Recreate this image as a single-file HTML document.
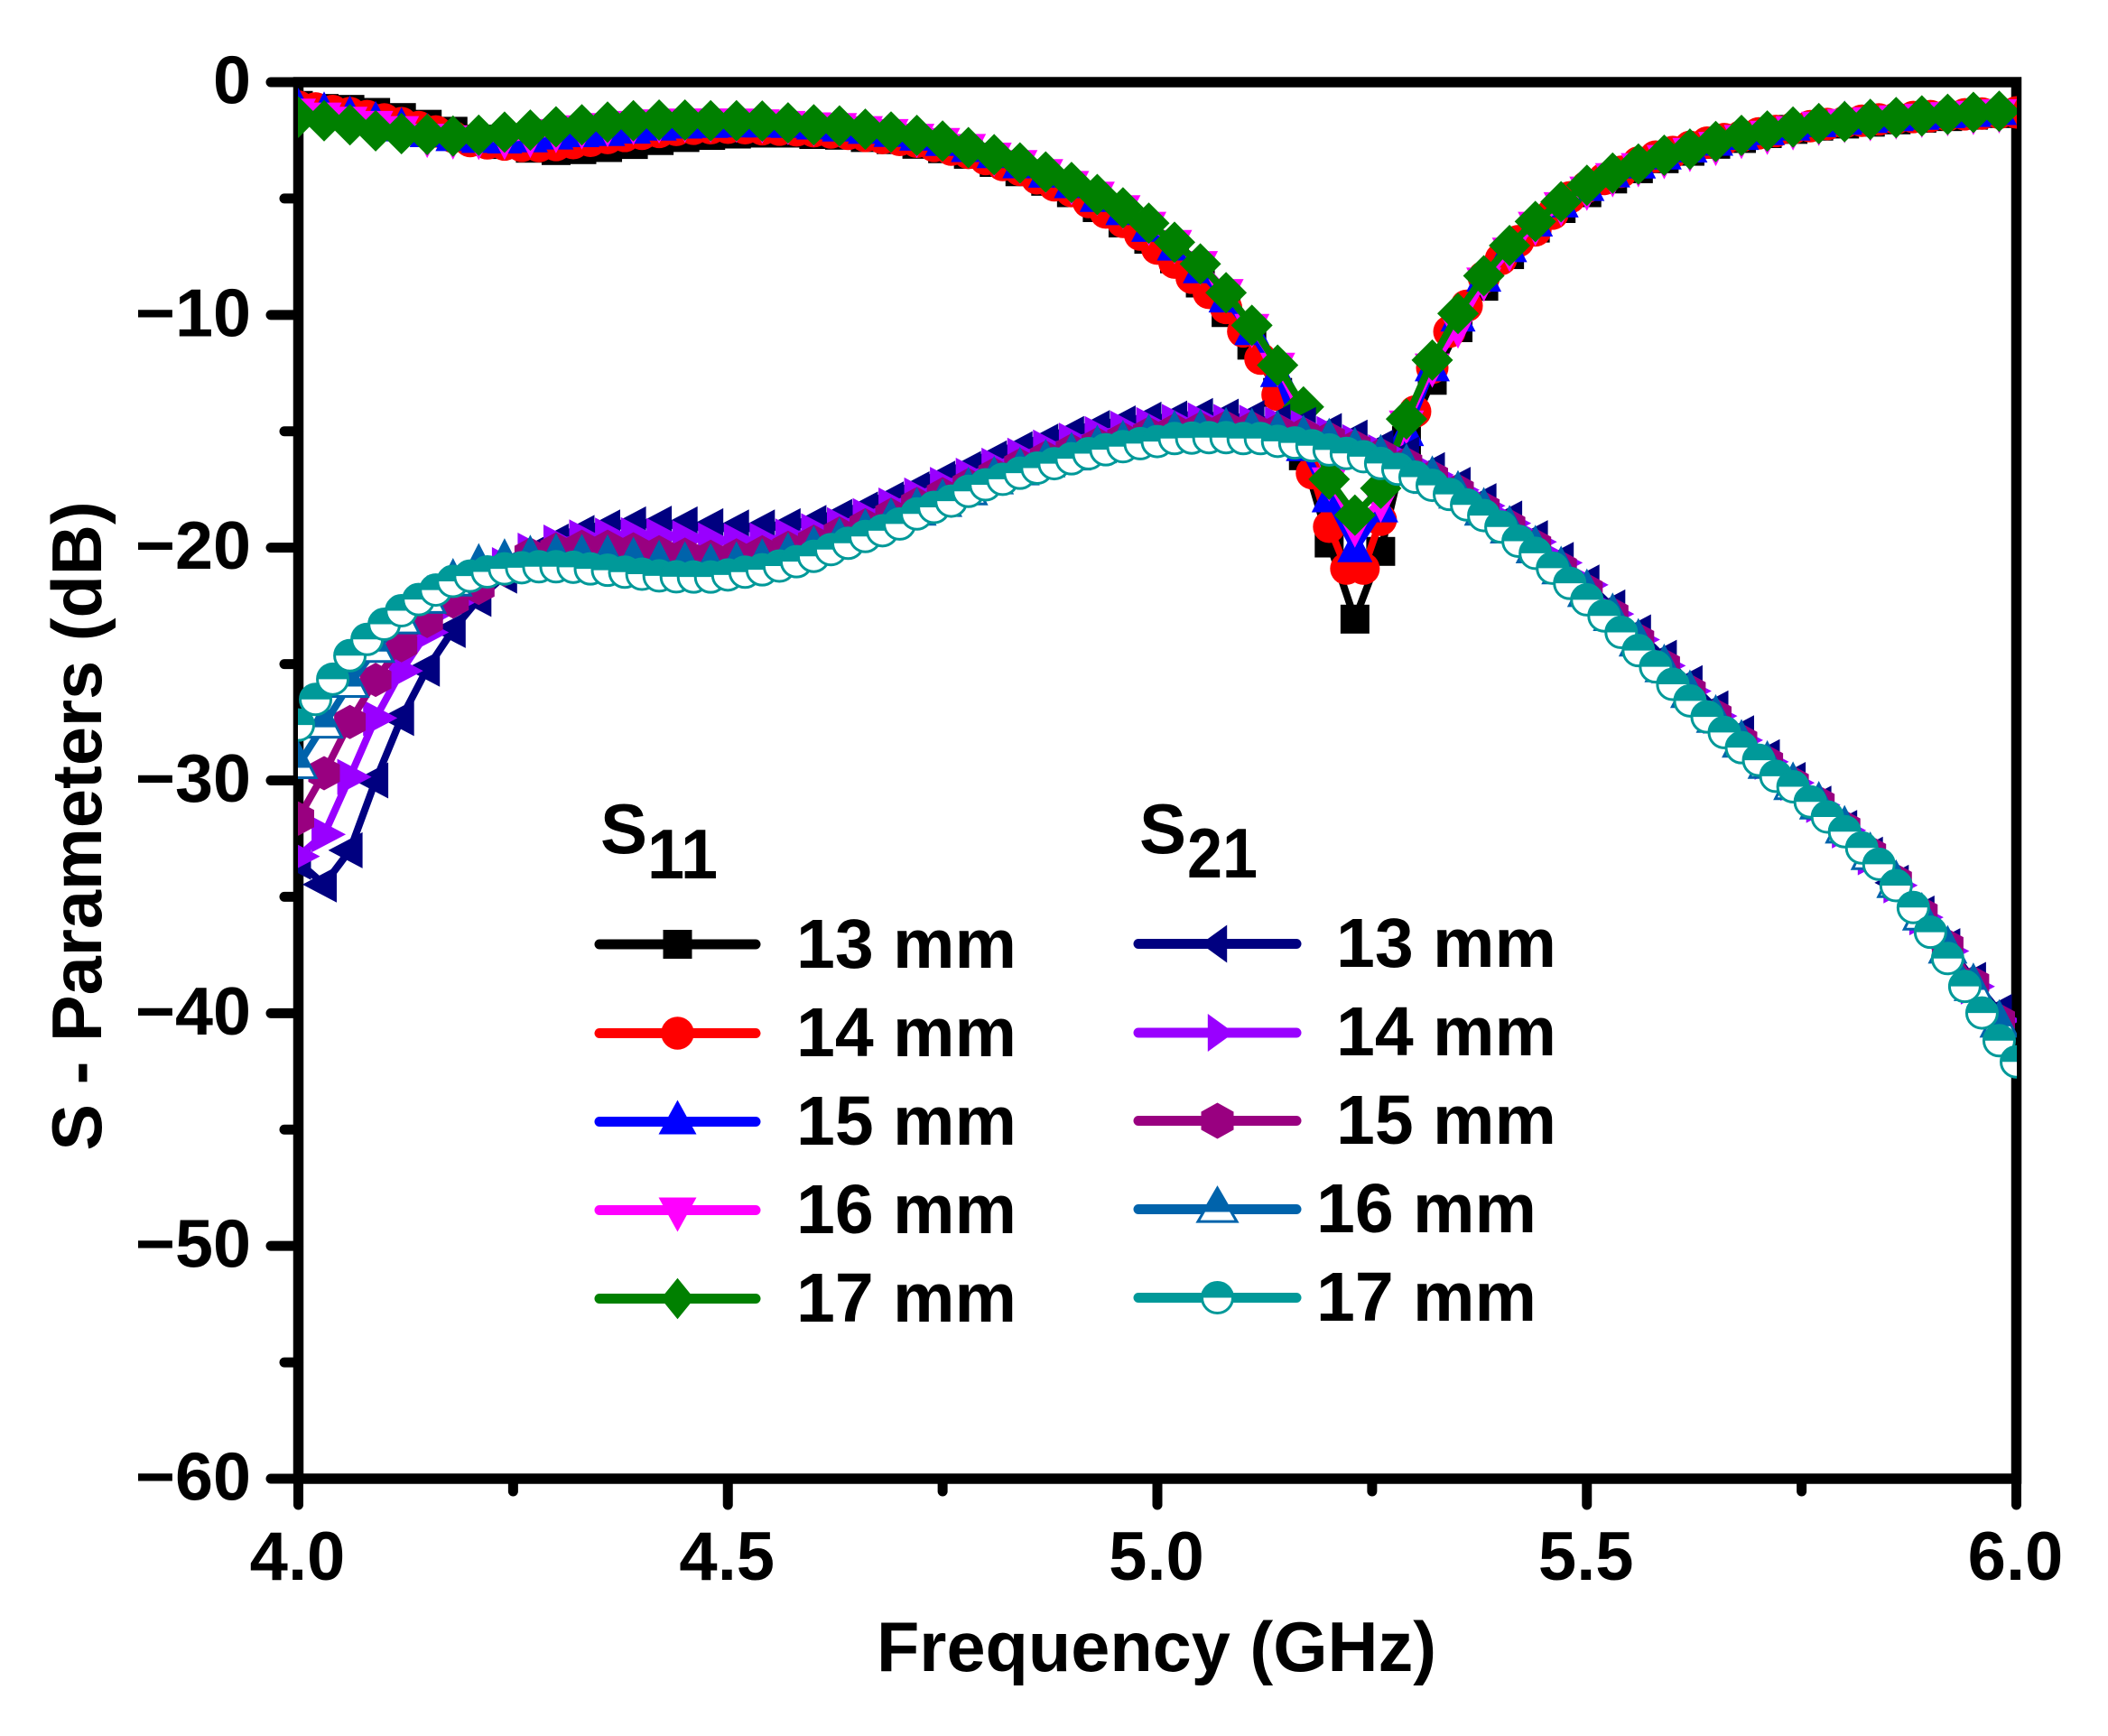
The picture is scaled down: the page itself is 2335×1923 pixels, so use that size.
<!DOCTYPE html>
<html lang="en">
<head>
<meta charset="utf-8">
<title>S-Parameters vs Frequency</title>
<style>
html,body{margin:0;padding:0;background:#fff;}
svg{display:block;}
text{font-family:"Liberation Sans",Arial,sans-serif;font-weight:bold;fill:#000;}
</style>
</head>
<body>
<svg id="chart" xmlns="http://www.w3.org/2000/svg" width="2335" height="1923" viewBox="0 0 2335 1923">
  <rect x="0" y="0" width="2335" height="1923" fill="#fff"/>
  <g id="axes"></g>
  <text x="1281" y="1851" font-size="77.5" text-anchor="middle">Frequency (GHz)</text>
  <text transform="translate(112,915) rotate(-90)" font-size="77.5" text-anchor="middle">S - Parameters (dB)</text>
  <g id="plot" clip-path="url(#plot-clip)"></g>
  <clipPath id="plot-clip"><rect x="330" y="60" width="1904" height="1590"/></clipPath>
  <g id="legend">
    <text x="665" y="945" font-size="78">S</text>
    <text x="717" y="973" font-size="78" textLength="78" lengthAdjust="spacingAndGlyphs">11</text>
    <text x="1262" y="945" font-size="78">S</text>
    <text x="1315" y="972" font-size="78" textLength="78" lengthAdjust="spacingAndGlyphs">21</text>
    <text x="882" y="1072" font-size="77">13 mm</text>
    <text x="882" y="1170" font-size="77">14 mm</text>
    <text x="882" y="1268" font-size="77">15 mm</text>
    <text x="882" y="1366" font-size="77">16 mm</text>
    <text x="882" y="1464" font-size="77">17 mm</text>
    <text x="1480" y="1071" font-size="77">13 mm</text>
    <text x="1480" y="1169" font-size="77">14 mm</text>
    <text x="1480" y="1267" font-size="77">15 mm</text>
    <text x="1458" y="1365" font-size="77">16 mm</text>
    <text x="1458" y="1463" font-size="77">17 mm</text>
  </g>
</svg>
<script>
// Axis labels
const xTickValues = [4.0, 4.5, 5.0, 5.5, 6.0];
const xTickLabels = ["4.0", "4.5", "5.0", "5.5", "6.0"];
const xMinorTicks = [4.25, 4.75, 5.25, 5.75];
const yTickValues = [0, -10, -20, -30, -40, -50, -60];
const yTickLabels = ["0", "\u221210", "\u221220", "\u221230", "\u221240", "\u221250", "\u221260"];
const yMinorTicks = [-5, -15, -25, -35, -45, -55];

// Frequency categories (GHz)
const freqCoarse = [4.00,4.03,4.06,4.09,4.12,4.15,4.18,4.21,4.24,4.27,4.30,4.33,4.36,4.39,4.42,4.45,4.48,4.51,4.54,4.57,4.60,4.63,4.66,4.69,4.72,4.75,4.78,4.81,4.84,4.87,4.90,4.93,4.96,4.99,5.02,5.05,5.08,5.11,5.14,5.17,5.20,5.23,5.26,5.29,5.32,5.35,5.38,5.41,5.44,5.47,5.50,5.53,5.56,5.59,5.62,5.65,5.68,5.71,5.74,5.77,5.80,5.83,5.86,5.89,5.92,5.95,5.98];
const freqFine = [4.00,4.02,4.04,4.06,4.08,4.10,4.12,4.14,4.16,4.18,4.20,4.22,4.24,4.26,4.28,4.30,4.32,4.34,4.36,4.38,4.40,4.42,4.44,4.46,4.48,4.50,4.52,4.54,4.56,4.58,4.60,4.62,4.64,4.66,4.68,4.70,4.72,4.74,4.76,4.78,4.80,4.82,4.84,4.86,4.88,4.90,4.92,4.94,4.96,4.98,5.00,5.02,5.04,5.06,5.08,5.10,5.12,5.14,5.16,5.18,5.20,5.22,5.24,5.26,5.28,5.30,5.32,5.34,5.36,5.38,5.40,5.42,5.44,5.46,5.48,5.50,5.52,5.54,5.56,5.58,5.60,5.62,5.64,5.66,5.68,5.70,5.72,5.74,5.76,5.78,5.80,5.82,5.84,5.86,5.88,5.90,5.92,5.94,5.96,5.98,6.00];

// S11 series (dB)
const s11mm13 = [-1.0,-1.13,-1.17,-1.3,-1.52,-1.81,-2.11,-2.45,-2.68,-2.84,-2.94,-2.9,-2.81,-2.68,-2.51,-2.38,-2.29,-2.23,-2.19,-2.19,-2.25,-2.28,-2.38,-2.47,-2.67,-2.86,-3.1,-3.45,-3.85,-4.26,-4.75,-5.39,-6.05,-6.75,-7.59,-8.63,-9.9,-11.3,-13.33,-16.05,-19.8,-23.07,-20.16,-15.4,-12.81,-10.55,-8.77,-7.41,-6.27,-5.43,-4.75,-4.16,-3.72,-3.29,-2.97,-2.67,-2.42,-2.21,-2.03,-1.89,-1.8,-1.72,-1.62,-1.55,-1.48,-1.42,-1.35];
const s11mm14 = [-1.05,-1.13,-1.24,-1.33,-1.46,-1.6,-1.76,-1.93,-2.12,-2.35,-2.53,-2.63,-2.68,-2.74,-2.75,-2.7,-2.62,-2.52,-2.4,-2.31,-2.22,-2.14,-2.05,-2.0,-1.98,-1.96,-1.98,-2.02,-2.04,-2.07,-2.11,-2.16,-2.22,-2.31,-2.4,-2.48,-2.56,-2.74,-2.9,-3.04,-3.3,-3.56,-3.77,-4.13,-4.43,-4.68,-5.15,-5.6,-6.0,-6.55,-7.15,-7.75,-8.4,-9.05,-9.7,-10.71,-11.88,-13.43,-15.0,-16.8,-19.1,-20.9,-20.9,-18.8,-16.3,-14.15,-12.27,-10.72,-9.61,-8.38,-7.6,-6.83,-6.37,-5.65,-4.95,-4.5,-4.16,-3.85,-3.45,-3.2,-3.0,-2.78,-2.6,-2.45,-2.32,-2.2,-2.1,-1.98,-1.89,-1.8,-1.72,-1.66,-1.6,-1.55,-1.5,-1.46,-1.42,-1.38,-1.35,-1.32,-1.3];
const s11mm15 = [-1.17,-1.33,-1.5,-1.74,-2.0,-2.25,-2.42,-2.5,-2.52,-2.47,-2.35,-2.25,-2.2,-2.1,-1.97,-1.88,-1.85,-1.83,-1.83,-1.85,-1.92,-2.01,-2.11,-2.24,-2.4,-2.63,-2.89,-3.15,-3.59,-3.99,-4.44,-5.03,-5.6,-6.32,-7.12,-8.1,-9.35,-10.75,-12.56,-15.74,-17.94,-20.08,-18.37,-15.09,-12.31,-10.17,-8.46,-7.19,-6.09,-5.27,-4.56,-3.98,-3.6,-3.21,-2.91,-2.62,-2.37,-2.16,-1.97,-1.82,-1.72,-1.64,-1.56,-1.5,-1.43,-1.38,-1.3];
const s11mm16 = [-1.25,-1.42,-1.6,-1.78,-2.0,-2.33,-2.40,-2.42,-2.42,-2.33,-2.13,-1.97,-1.87,-1.78,-1.71,-1.68,-1.68,-1.68,-1.71,-1.78,-1.84,-1.87,-2.0,-2.13,-2.33,-2.51,-2.77,-3.14,-3.46,-3.85,-4.36,-4.82,-5.40,-6.11,-6.89,-7.8,-9.0,-10.5,-12.17,-14.37,-17.09,-19.07,-18.0,-14.65,-12.2,-10.52,-8.51,-7.22,-6.11,-5.27,-4.6,-4.02,-3.59,-3.24,-2.94,-2.68,-2.38,-2.2,-2.01,-1.81,-1.7,-1.62,-1.54,-1.47,-1.4,-1.35,-1.28];
const s11mm17 = [-1.5,-1.66,-1.83,-2.09,-2.21,-2.25,-2.32,-2.28,-2.15,-2.06,-1.92,-1.83,-1.72,-1.66,-1.63,-1.63,-1.66,-1.66,-1.67,-1.75,-1.83,-1.88,-2.02,-2.14,-2.29,-2.53,-2.81,-3.12,-3.47,-3.86,-4.31,-4.83,-5.40,-6.06,-6.88,-7.81,-9.05,-10.45,-12.16,-13.95,-17.06,-18.6,-17.45,-14.47,-11.94,-9.94,-8.32,-7.02,-5.99,-5.14,-4.43,-3.91,-3.52,-3.14,-2.88,-2.55,-2.29,-2.10,-1.93,-1.78,-1.7,-1.6,-1.52,-1.45,-1.38,-1.3,-1.25];

// S21 series (dB)
const s21mm13 = [-33.5,-34.47,-33.0,-30.0,-27.32,-25.2,-23.54,-22.2,-21.2,-20.33,-19.74,-19.37,-19.13,-19.0,-18.97,-19.0,-19.08,-19.13,-19.13,-19.08,-18.94,-18.68,-18.36,-17.93,-17.49,-17.04,-16.62,-16.16,-15.77,-15.44,-15.12,-14.86,-14.66,-14.5,-14.45,-14.34,-14.37,-14.43,-14.6,-14.73,-14.99,-15.27,-15.7,-16.0,-16.67,-17.3,-18.0,-18.75,-19.59,-20.53,-21.5,-22.57,-23.64,-24.73,-25.82,-26.91,-27.97,-29.0,-29.98,-31.0,-32.04,-33.19,-34.4,-35.72,-37.12,-38.57,-39.95];
const s21mm14 = [-33.26,-32.32,-29.85,-27.32,-25.29,-23.64,-22.37,-21.53,-20.75,-20.13,-19.78,-19.56,-19.48,-19.46,-19.5,-19.59,-19.69,-19.72,-19.69,-19.52,-19.29,-19.03,-18.64,-18.19,-17.76,-17.3,-16.91,-16.48,-16.05,-15.7,-15.4,-15.12,-14.89,-14.73,-14.6,-14.53,-14.6,-14.63,-14.7,-14.86,-15.12,-15.47,-15.9,-16.35,-16.87,-17.52,-18.2,-18.95,-19.75,-20.65,-21.6,-22.85,-23.95,-25.07,-26.16,-27.23,-28.27,-29.2,-30.1,-31.05,-32.15,-33.3,-34.51,-35.88,-37.33,-38.85,-40.3];
const s21mm15 = [-31.64,-29.69,-27.49,-25.68,-24.19,-23.15,-22.31,-21.73,-20.95,-20.29,-20.07,-19.96,-19.96,-20.07,-20.2,-20.3,-20.39,-20.33,-20.2,-20.0,-19.74,-19.39,-19.03,-18.58,-18.12,-17.7,-17.3,-16.85,-16.45,-16.12,-15.82,-15.55,-15.32,-15.1,-14.95,-14.88,-14.82,-14.85,-14.95,-15.12,-15.3,-15.65,-16.0,-16.4,-16.95,-17.55,-18.3,-19.05,-19.9,-20.85,-21.82,-22.85,-23.95,-25.05,-26.15,-27.2,-28.28,-29.2,-30.1,-30.95,-32.0,-33.1,-34.3,-35.7,-37.1,-38.7,-40.3];
const s21mm16 = [-29.34,-27.6,-25.85,-24.35,-23.12,-22.24,-21.5,-20.86,-20.65,-20.5,-20.42,-20.46,-20.48,-20.58,-20.71,-20.78,-20.85,-20.78,-20.65,-20.39,-20.09,-19.74,-19.36,-18.9,-18.45,-18.08,-17.58,-17.11,-16.72,-16.38,-16.08,-15.77,-15.56,-15.3,-15.14,-15.08,-15.01,-15.04,-15.14,-15.34,-15.47,-15.86,-16.17,-16.56,-17.09,-17.72,-18.45,-19.22,-20.07,-20.97,-21.95,-22.98,-24.08,-25.18,-26.29,-27.35,-28.42,-29.33,-30.24,-31.08,-32.11,-33.25,-34.45,-35.85,-37.27,-38.88,-40.45];
const s21mm17 = [-27.62,-26.52,-25.65,-24.64,-23.94,-23.29,-22.71,-22.23,-21.82,-21.45,-21.22,-21.04,-20.91,-20.86,-20.82,-20.82,-20.84,-20.91,-20.97,-21.05,-21.14,-21.21,-21.25,-21.26,-21.26,-21.17,-21.05,-20.95,-20.79,-20.6,-20.37,-20.08,-19.81,-19.52,-19.27,-18.98,-18.55,-18.27,-18.0,-17.58,-17.3,-17.06,-16.8,-16.58,-16.39,-16.18,-15.96,-15.79,-15.66,-15.53,-15.44,-15.31,-15.29,-15.27,-15.27,-15.31,-15.31,-15.43,-15.5,-15.62,-15.8,-15.95,-16.09,-16.38,-16.63,-16.97,-17.32,-17.71,-18.16,-18.62,-19.11,-19.72,-20.24,-20.88,-21.53,-22.24,-22.93,-23.64,-24.42,-25.12,-25.87,-26.58,-27.27,-27.94,-28.59,-29.13,-29.82,-30.27,-30.92,-31.57,-32.2,-32.9,-33.6,-34.52,-35.46,-36.52,-37.65,-38.85,-39.99,-41.18,-42.09];

const SVG_NS = "http://www.w3.org/2000/svg";
const PLOT_LEFT = 330.5, PLOT_RIGHT = 2233.5, PLOT_TOP = 91, PLOT_BOTTOM = 1638;
const xScale = f => PLOT_LEFT + (f - 4) / 2 * (PLOT_RIGHT - PLOT_LEFT);
const yScale = v => PLOT_TOP + (-v) / 60 * (PLOT_BOTTOM - PLOT_TOP);

function svgEl(tag, parent) {
  const el = document.createElementNS(SVG_NS, tag);
  parent.appendChild(el);
  return el;
}
function pts(list) {
  return list.map(p => p[0].toFixed(1) + "," + p[1].toFixed(1)).join(" ");
}

// Marker drawing: every marker centred on data coordinates (cx, cy)
function drawMarker(parent, kind, cx, cy, color, w, h, name) {
  const g = svgEl("g", parent);
  
  
  let shape;
  if (kind === "square") {
    shape = svgEl("rect", g);
    shape.setAttribute("x", cx - w / 2);
    shape.setAttribute("y", cy - h / 2);
    shape.setAttribute("width", w);
    shape.setAttribute("height", h);
    shape.setAttribute("fill", color);
  } else if (kind === "circle") {
    shape = svgEl("ellipse", g);
    shape.setAttribute("cx", cx);
    shape.setAttribute("cy", cy);
    shape.setAttribute("rx", w / 2);
    shape.setAttribute("ry", h / 2);
    shape.setAttribute("fill", color);
  } else if (kind === "up" || kind === "down") {
    const s = kind === "up" ? 1 : -1;
    shape = svgEl("polygon", g);
    shape.setAttribute("points", pts([[cx, cy - s * h * 0.632], [cx + w / 2, cy + s * h * 0.368], [cx - w / 2, cy + s * h * 0.368]]));
    shape.setAttribute("fill", color);
  } else if (kind === "left" || kind === "right") {
    const s = kind === "left" ? 1 : -1;
    shape = svgEl("polygon", g);
    shape.setAttribute("points", pts([[cx - s * w * 0.632, cy], [cx + s * w * 0.368, cy - h / 2], [cx + s * w * 0.368, cy + h / 2]]));
    shape.setAttribute("fill", color);
  } else if (kind === "diamond") {
    shape = svgEl("polygon", g);
    shape.setAttribute("points", pts([[cx, cy - h / 2], [cx + w / 2, cy], [cx, cy + h / 2], [cx - w / 2, cy]]));
    shape.setAttribute("fill", color);
  } else if (kind === "hexagon") {
    shape = svgEl("polygon", g);
    shape.setAttribute("points", pts([[cx, cy - h / 2], [cx + w / 2, cy - h / 4], [cx + w / 2, cy + h / 4], [cx, cy + h / 2], [cx - w / 2, cy + h / 4], [cx - w / 2, cy - h / 4]]));
    shape.setAttribute("fill", color);
  } else if (kind === "halfup") {
    const apexY = cy - h * 0.632, baseY = cy + h * 0.368, cutY = cy + 3;
    const cutHalf = (w / 2) * (cutY - apexY) / (baseY - apexY);
    shape = svgEl("polygon", g);
    shape.setAttribute("points", pts([[cx, apexY], [cx + w / 2, baseY], [cx - w / 2, baseY]]));
    shape.setAttribute("fill", "#fff");
    shape.setAttribute("stroke", color);
    shape.setAttribute("stroke-width", "3");
    const top = svgEl("polygon", g);
    top.setAttribute("points", pts([[cx, apexY], [cx + cutHalf, cutY], [cx - cutHalf, cutY]]));
    top.setAttribute("fill", color);
  } else if (kind === "halfcircle") {
    const r = w / 2 - 1;
    shape = svgEl("circle", g);
    shape.setAttribute("cx", cx);
    shape.setAttribute("cy", cy);
    shape.setAttribute("r", r);
    shape.setAttribute("fill", "#fff");
    shape.setAttribute("stroke", color);
    shape.setAttribute("stroke-width", "3");
    const top = svgEl("path", g);
    top.setAttribute("d", "M" + (cx - r) + " " + cy + " A" + r + " " + r + " 0 0 1 " + (cx + r) + " " + cy + " Z");
    top.setAttribute("fill", color);
  }
}

// Axes
const axes = document.getElementById("axes");
const frame = svgEl("rect", axes);


frame.setAttribute("x", PLOT_LEFT);
frame.setAttribute("y", PLOT_TOP);
frame.setAttribute("width", PLOT_RIGHT - PLOT_LEFT);
frame.setAttribute("height", PLOT_BOTTOM - PLOT_TOP);
frame.setAttribute("fill", "none");
frame.setAttribute("stroke", "#000");
frame.setAttribute("stroke-width", "11.5");

function tickLine(x1, y1, x2, y2) {
  const t = svgEl("line", axes);
  
  
  t.setAttribute("x1", x1);
  t.setAttribute("y1", y1);
  t.setAttribute("x2", x2);
  t.setAttribute("y2", y2);
  t.setAttribute("stroke", "#000");
  t.setAttribute("stroke-width", "11");
  t.setAttribute("stroke-linecap", "round");
}
yTickValues.forEach((v, i) => {
  const y = yScale(v);
  tickLine(PLOT_LEFT, y, 300, y);
  const label = svgEl("text", axes);
  
  
  label.setAttribute("x", 278);
  label.setAttribute("y", y + 23.5);
  label.setAttribute("font-size", "75.5");
  label.setAttribute("text-anchor", "end");
  label.textContent = yTickLabels[i];
});
yMinorTicks.forEach(v => {
  const y = yScale(v);
  tickLine(PLOT_LEFT, y, 315, y);
});
xTickValues.forEach((f, i) => {
  const x = xScale(f);
  tickLine(x, PLOT_BOTTOM, x, 1667);
  const label = svgEl("text", axes);
  
  
  label.setAttribute("x", x - 1);
  label.setAttribute("y", 1750);
  label.setAttribute("font-size", "76");
  label.setAttribute("text-anchor", "middle");
  label.textContent = xTickLabels[i];
});
xMinorTicks.forEach(f => {
  const x = xScale(f);
  tickLine(x, PLOT_BOTTOM, x, 1652);
});

// Series definitions, drawn in plot order
const seriesList = [
  {name: "s11-13mm", freq: freqCoarse, vals: s11mm13, color: "#000000", kind: "square",     w: 32, h: 32},
  {name: "s11-14mm", freq: freqFine,   vals: s11mm14, color: "#ff0000", kind: "circle",     w: 36, h: 36},
  {name: "s11-15mm", freq: freqCoarse, vals: s11mm15, color: "#0000ff", kind: "up",         w: 39, h: 38},
  {name: "s11-16mm", freq: freqCoarse, vals: s11mm16, color: "#ff00ff", kind: "down",       w: 39, h: 38},
  {name: "s11-17mm", freq: freqCoarse, vals: s11mm17, color: "#008000", kind: "diamond",    w: 46, h: 46},
  {name: "s21-13mm", freq: freqCoarse, vals: s21mm13, color: "#000080", kind: "left",       w: 38, h: 40},
  {name: "s21-14mm", freq: freqCoarse, vals: s21mm14, color: "#9900ff", kind: "right",      w: 38, h: 40},
  {name: "s21-15mm", freq: freqCoarse, vals: s21mm15, color: "#990080", kind: "hexagon",    w: 35, h: 38},
  {name: "s21-16mm", freq: freqCoarse, vals: s21mm16, color: "#0063ab", kind: "halfup",     w: 39, h: 38},
  {name: "s21-17mm", freq: freqFine,   vals: s21mm17, color: "#009999", kind: "halfcircle", w: 36, h: 36}
];

const plot = document.getElementById("plot");
seriesList.forEach(s => {
  const g = svgEl("g", plot);
  
  
  const line = svgEl("polyline", g);
  
  
  line.setAttribute("points", pts(s.vals.map((v, i) => [xScale(s.freq[i]), yScale(v)])));
  line.setAttribute("fill", "none");
  line.setAttribute("stroke", s.color);
  line.setAttribute("stroke-width", "8");
  line.setAttribute("stroke-linejoin", "round");
  s.vals.forEach((v, i) => {
    drawMarker(g, s.kind, xScale(s.freq[i]), yScale(v), s.color, s.w, s.h, 'point-' + s.name);
  });
});

// Legend samples
const legendGroup = document.getElementById("legend");
const legendRowsLeft = [1046, 1144.5, 1242.5, 1340.5, 1438.5];
const legendRowsRight = [1045.5, 1144, 1241.5, 1339.5, 1437.5];
const legendSizes = [[32,32],[36.5,36.5],[42,38],[42,38],[37,45.5],[29,42],[29,42],[36,40],[43,37],[36,36]];
seriesList.forEach((s, i) => {
  const left = i < 5;
  const y = left ? legendRowsLeft[i] : legendRowsRight[i - 5];
  const x1 = left ? 664 : 1261;
  const x2 = left ? 837 : 1436;
  const cx = left ? 750.5 : 1348.5;
  const g = svgEl("g", legendGroup);
  
  
  const l = svgEl("line", g);
  
  
  l.setAttribute("x1", x1);
  l.setAttribute("y1", y);
  l.setAttribute("x2", x2);
  l.setAttribute("y2", y);
  l.setAttribute("stroke", s.color);
  l.setAttribute("stroke-width", "11");
  l.setAttribute("stroke-linecap", "round");
  drawMarker(g, s.kind, cx, y, s.color, legendSizes[i][0], legendSizes[i][1], 'legend-marker-' + s.name);
});
</script>
</body>
</html>
